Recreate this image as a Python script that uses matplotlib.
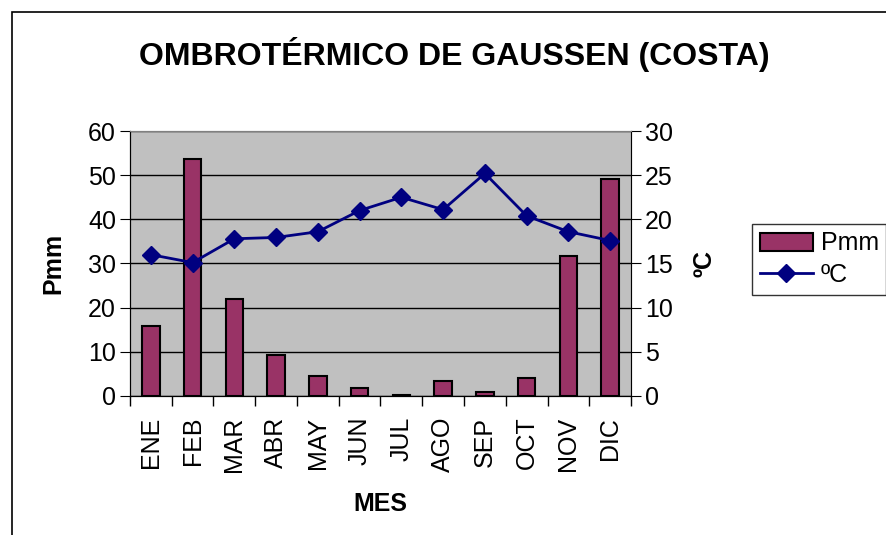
import matplotlib.pyplot as plt
import numpy as np
from matplotlib.patches import Rectangle

plt.rcParams['font.family'] = ['Liberation Sans', 'DejaVu Sans']

meses = ['ENE', 'FEB', 'MAR', 'ABR', 'MAY', 'JUN', 'JUL', 'AGO', 'SEP', 'OCT', 'NOV', 'DIC']
pmm = [15.8, 53.7, 22.0, 9.3, 4.4, 1.9, 0.3, 3.3, 0.8, 4.1, 31.8, 49.2]
temp = [16.0, 15.1, 17.8, 17.95, 18.6, 21.0, 22.5, 21.1, 25.2, 20.4, 18.6, 17.6]

fig = plt.figure(figsize=(8.86, 5.35), dpi=100)
ax = fig.add_axes([0.1467, 0.26, 0.5655, 0.495])
ax.set_facecolor('#C0C0C0')

# marco del grafico
fig.patches.append(Rectangle((12/886, -0.1), 1.0, 1 - 12/535 + 0.1, transform=fig.transFigure,
                             fill=False, edgecolor='black', linewidth=1.2))

x = np.arange(len(meses))
ax.bar(x, pmm, width=0.42, color='#993366', edgecolor='black', linewidth=1.5, label='Pmm', zorder=3)
ax.set_xlim(-0.5, 11.5)
ax.set_ylim(0, 60)
ax.set_yticks(np.arange(0, 61, 10))
ax.yaxis.grid(True, color='black', linewidth=1)
ax.set_axisbelow(True)
ax.set_xticks(x)
ax.set_xticklabels(meses, rotation=90, fontsize=18)
ax.tick_params(axis='x', length=0, pad=15)
ax.set_xticks(np.arange(-0.5, 12, 1), minor=True)
ax.tick_params(axis='x', which='minor', length=7, width=1, direction='out')
ax.tick_params(axis='y', labelsize=18, length=7, direction='out', pad=3)
ax.set_ylabel('Pmm', fontsize=18, fontweight='bold', labelpad=16)
ax.set_xlabel('MES', fontsize=18, fontweight='bold', labelpad=14)
for s in ['top', 'right']:
    ax.spines[s].set_color('#808080')

ax2 = ax.twinx()
ax2.plot(x, temp, color='#000080', linewidth=2, marker='D', markersize=9, label='ºC', zorder=4)
ax2.set_ylim(0, 30)
ax2.set_yticks(np.arange(0, 31, 5))
ax2.tick_params(axis='y', labelsize=18, length=7, direction='out', pad=3)
ax2.set_ylabel('ºC', fontsize=18, fontweight='bold', rotation=90, labelpad=14)
ax2.spines['right'].set_color('black')
ax2.spines['top'].set_color('#808080')

h1, l1 = ax.get_legend_handles_labels()
h2, l2 = ax2.get_legend_handles_labels()
leg = fig.legend(h1 + h2, l1 + l2, loc='upper left', bbox_to_anchor=(752/886, 1 - 224/535),
                 fontsize=18, frameon=True, fancybox=False, edgecolor='black',
                 handlelength=2.15, borderaxespad=0, borderpad=0.3, labelspacing=0.3, handletextpad=0.3)
leg.get_frame().set_linewidth(1)

fig.text(454/886, 1 - 55/535, 'OMBROTÉRMICO DE GAUSSEN (COSTA)', fontsize=23, fontweight='bold',
         ha='center', va='center')

fig.savefig('out.png', dpi=100)
